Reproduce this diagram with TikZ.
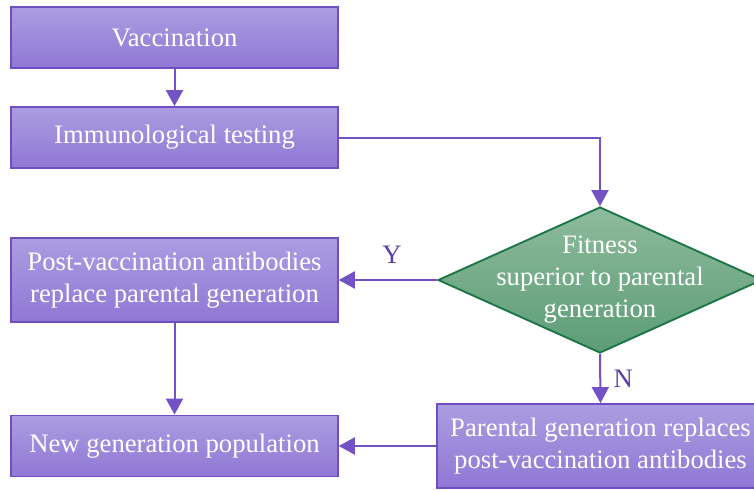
\documentclass[tikz,border=0pt]{standalone}
\usepackage{fontspec}
\setmainfont{Liberation Serif}
\usetikzlibrary{shapes.geometric,arrows.meta}

\definecolor{boxtop}{HTML}{AA9DE1}
\definecolor{boxbot}{HTML}{9177D5}
\definecolor{boxline}{HTML}{6E4EC0}
\definecolor{flowc}{HTML}{7352C6}
\definecolor{labelc}{HTML}{5A3FA8}
\definecolor{dectop}{HTML}{8EBB9D}
\definecolor{decbot}{HTML}{5C9C76}
\definecolor{decline}{HTML}{1B7546}

\tikzstyle{box}=[draw=boxline, line width=1.4pt, top color=boxtop,
    bottom color=boxbot, text=white, align=center, inner sep=0pt,
    minimum width=245pt, font=\fontsize{20}{24}\selectfont]
\tikzstyle{dec}=[diamond, draw=decline, line width=1.4pt, top color=dectop,
    bottom color=decbot, inner sep=0pt, minimum width=243pt,
    minimum height=109.5pt]
\tikzstyle{dectext}=[text=white, align=center,
    font=\fontsize{20}{24}\selectfont]
\tikzstyle{flow}=[draw=flowc, line width=1.5pt,
    -{Triangle[length=12pt,width=12.75pt]}]
\tikzstyle{yn}=[text=labelc, font=\fontsize{20}{24}\selectfont]
\def\lowbox{45.75pt}
\def\highbox{63pt}

\begin{document}
\begin{tikzpicture}[x=0.75pt,y=-0.75pt]
    \useasboundingbox (0,0) rectangle (754,490);

    \node (vac) [box, minimum height=\lowbox] at (174.5,37.5) {Vaccination};
    \node (imm) [box, minimum height=\lowbox] at (174.5,137.5)
        {Immunological testing};
    \node (post) [box, minimum height=\highbox] at (174.5,280)
        {Post-vaccination antibodies\\replace parental generation};
    \node (new) [box, minimum height=\lowbox] at (174.5,446)
        {New generation population};
    \node (dec) [dec] at (600,280) {};
    \node (dect) [dectext] at (dec.center)
        {Fitness\\superior to parental\\generation};
    \node (par) [box, minimum height=\highbox] at (600.5,446)
        {Parental generation replaces\\post-vaccination antibodies};

    \draw [flow] (vac) -- (imm);
    \draw [flow] (imm.east) -- (imm.east -| dec.north) -- (dec.north);
    \draw [flow] (dec.west) -- node [yn, above=8pt, xshift=3pt] {Y} (post.east);
    \draw [flow] (dec.south) -- node [yn, right=6pt] {N} (par.north);
    \draw [flow] (post) -- (new);
    \draw [flow] (par.west) -- (new.east);
\end{tikzpicture}
\end{document}
